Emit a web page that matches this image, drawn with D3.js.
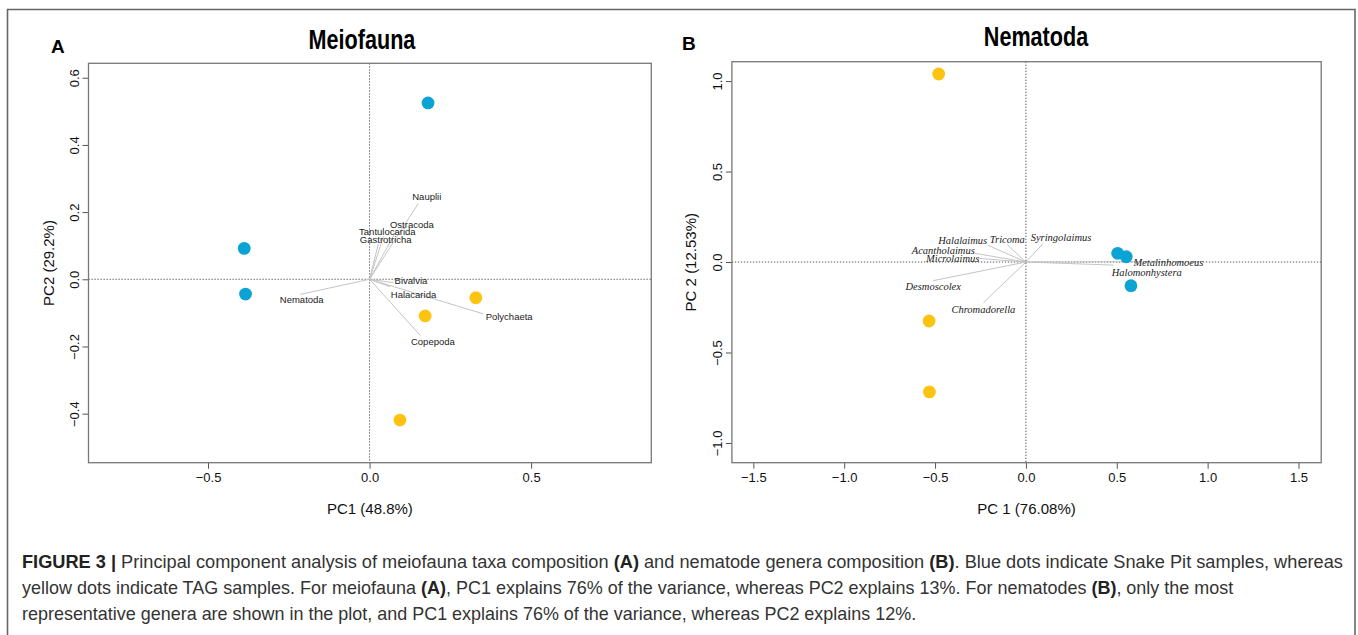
<!DOCTYPE html>
<html>
<head>
<meta charset="utf-8">
<script src="https://cdn.jsdelivr.net/npm/d3@7"></script>
<style>
    body { margin: 0; background: #fff; }
    svg { display: block; }
    .tick text { font-family: "Liberation Sans", Arial, sans-serif; font-size: 13px; fill: #111; }
    .tick line { stroke: #555; }
</style>
</head>
<body>
<div id="fig"></div>
<script>
// ---- panel A: meiofauna PCA (sample scores + taxa loadings) ----
const meioSite = ['Snake Pit', 'Snake Pit', 'Snake Pit', 'TAG', 'TAG', 'TAG'];
const meioPC1 = [0.181, -0.388, -0.384, 0.329, 0.172, 0.094];
const meioPC2 = [0.525, 0.092, -0.044, -0.055, -0.109, -0.419];

const meioTaxa = ['Nauplii', 'Ostracoda', 'Tantulocarida', 'Gastrotricha', 'Bivalvia', 'Halacarida', 'Polychaeta', 'Copepoda', 'Nematoda'];
const meioLoadPC1 = [0.151, 0.084, 0.043, 0.027, 0.074, 0.063, 0.352, 0.158, -0.215];
const meioLoadPC2 = [0.226, 0.147, 0.127, 0.105, -0.010, -0.022, -0.103, -0.168, -0.045];
// where the taxon names sit (data units)
const meioLabelPC1 = [0.177, 0.131, 0.055, 0.050, 0.128, 0.136, 0.432, 0.196, -0.210];
const meioLabelPC2 = [0.246, 0.164, 0.142, 0.117, -0.005, -0.047, -0.111, -0.186, -0.062];

const meioTicksX = [-0.5, 0, 0.5];
const meioTicksY = [-0.4, -0.2, 0, 0.2, 0.4, 0.6];

// ---- panel B: nematode genera PCA ----
const nemaSite = ['TAG', 'TAG', 'TAG', 'Snake Pit', 'Snake Pit', 'Snake Pit'];
const nemaPC1 = [-0.480, -0.533, -0.531, 0.505, 0.552, 0.578];
const nemaPC2 = [1.039, -0.326, -0.718, 0.048, 0.029, -0.131];

const nemaGenera = ['Halalaimus', 'Tricoma', 'Syringolaimus', 'Acantholaimus', 'Microlaimus', 'Desmoscolex', 'Chromadorella', 'Metalinhomoeus', 'Halomonhystera'];
const nemaLoadPC1 = [-0.212, -0.102, 0.096, -0.280, -0.262, -0.510, -0.234, 0.591, 0.481];
const nemaLoadPC2 = [0.094, 0.094, 0.103, 0.048, 0.020, -0.103, -0.225, 0.002, -0.017];
const nemaLabelPC1 = [-0.348, -0.102, 0.193, -0.455, -0.403, -0.510, -0.234, 0.784, 0.665];
const nemaLabelPC2 = [0.118, 0.127, 0.134, 0.066, 0.020, -0.136, -0.261, -0.004, -0.059];

const nemaTicksX = [-1.5, -1.0, -0.5, 0, 0.5, 1.0, 1.5];
const nemaTicksY = [-1.0, -0.5, 0, 0.5, 1.0];

const siteColor = { 'Snake Pit': '#0ba3d3', 'TAG': '#fcc411' };

const captionLines = [
    [['FIGURE 3 | ', true], ['Principal component analysis of meiofauna taxa composition ', false], ['(A)', true], [' and nematode genera composition ', false], ['(B)', true], ['. Blue dots indicate Snake Pit samples, whereas', false]],
    [['yellow dots indicate TAG samples. For meiofauna ', false], ['(A)', true], [', PC1 explains 76% of the variance, whereas PC2 explains 13%. For nematodes ', false], ['(B)', true], [', only the most', false]],
    [['representative genera are shown in the plot, and PC1 explains 76% of the variance, whereas PC2 explains 12%.', false]]
];

const W = 1358, H = 635;
const svg = d3.select('#fig').append('svg').attr('width', W).attr('height', H);

// outer frame (open at the bottom, as cut in the figure)
svg.append('path')
    .attr('d', 'M7.5,640 V9.5 H1355 V640')
    .attr('fill', 'none').attr('stroke', '#666').attr('stroke-width', 1.6);

const fmt = (v) => d3.format('.1f')(v).replace('-', '\u2212');

function panel(cfg) {
    let x = d3.scaleLinear().domain(cfg.xDomain).range([cfg.left, cfg.right]);
    let y = d3.scaleLinear().domain(cfg.yDomain).range([cfg.bottom, cfg.top]);
    let g = svg.append('g');

    // zero reference lines
    g.append('line').attr('x1', cfg.left).attr('x2', cfg.right).attr('y1', y(0)).attr('y2', y(0))
        .attr('stroke', '#555').attr('stroke-width', 1).attr('stroke-dasharray', '1.3,1.7');
    g.append('line').attr('y1', cfg.top).attr('y2', cfg.bottom).attr('x1', x(0)).attr('x2', x(0))
        .attr('stroke', '#555').attr('stroke-width', 1).attr('stroke-dasharray', '1.3,1.7');

    // loading vectors
    g.append('g').selectAll('line').data(cfg.names).enter().append('line')
        .attr('x1', x(0)).attr('y1', y(0))
        .attr('x2', (d, i) => x(cfg.loadX[i])).attr('y2', (d, i) => y(cfg.loadY[i]))
        .attr('stroke', '#c4c4c4').attr('stroke-width', 1);

    g.append('g').selectAll('text').data(cfg.names).enter().append('text')
        .attr('x', (d, i) => x(cfg.labelX[i])).attr('y', (d, i) => y(cfg.labelY[i]))
        .attr('dy', '0.35em')
        .attr('text-anchor', 'middle')
        .style('font-family', cfg.labelFont)
        .style('font-style', cfg.labelStyle)
        .style('font-size', cfg.labelSize)
        .style('fill', '#222')
        .text((d) => d);

    // sample scores
    g.append('g').selectAll('circle').data(cfg.sites).enter().append('circle')
        .attr('cx', (d, i) => x(cfg.ptsX[i])).attr('cy', (d, i) => y(cfg.ptsY[i]))
        .attr('r', 6.4)
        .style('fill', (d) => siteColor[d]);

    // axes
    let xAxis = d3.axisBottom(x).tickValues(cfg.ticksX).tickFormat(fmt).tickSize(6).tickPadding(4);
    let yAxis = d3.axisLeft(y).tickValues(cfg.ticksY).tickFormat(fmt).tickSize(6);
    g.append('g').attr('transform', 'translate(0,' + cfg.bottom + ')').call(xAxis)
        .call((a) => a.select('.domain').remove());
    g.append('g').attr('transform', 'translate(' + cfg.left + ',0)').call(yAxis)
        .call((a) => a.select('.domain').remove())
        .selectAll('text')
        .attr('transform', 'rotate(-90)')
        .attr('x', 0).attr('y', -10).attr('dy', 0)
        .style('text-anchor', 'middle');

    // plot box
    g.append('rect').attr('x', cfg.left).attr('y', cfg.top)
        .attr('width', cfg.right - cfg.left).attr('height', cfg.bottom - cfg.top)
        .attr('fill', 'none').attr('stroke', '#777').attr('stroke-width', 1.3);

    // titles (condensed bold, squeezed horizontally)
    g.append('text')
        .attr('transform', 'translate(' + cfg.titleX + ',' + cfg.titleY + ') scale(0.8,1)')
        .attr('text-anchor', 'middle')
        .style('font-family', '"Liberation Sans", Arial, sans-serif')
        .style('font-weight', 'bold').style('font-size', '27px').style('fill', '#000')
        .text(cfg.title);
    g.append('text').attr('x', cfg.letterX).attr('y', cfg.letterY)
        .style('font-family', '"Liberation Sans", Arial, sans-serif')
        .style('font-weight', 'bold').style('font-size', '19px').style('fill', '#000')
        .text(cfg.letter);
    g.append('text').attr('x', (cfg.left + cfg.right) / 2).attr('y', 514).attr('text-anchor', 'middle')
        .style('font-family', '"Liberation Sans", Arial, sans-serif').style('font-size', '15px').style('fill', '#111')
        .text(cfg.xTitle);
    g.append('text')
        .attr('transform', 'translate(' + cfg.yTitleX + ',' + (cfg.top + cfg.bottom) / 2 + ') rotate(-90)')
        .attr('text-anchor', 'middle')
        .style('font-family', '"Liberation Sans", Arial, sans-serif').style('font-size', '15px').style('fill', '#111')
        .text(cfg.yTitle);
}

panel({
    left: 88.5, right: 651.3, top: 63.3, bottom: 462.7,
    xDomain: [-0.870, 0.872], yDomain: [-0.546, 0.643],
    ticksX: meioTicksX, ticksY: meioTicksY,
    ptsX: meioPC1, ptsY: meioPC2, sites: meioSite,
    names: meioTaxa, loadX: meioLoadPC1, loadY: meioLoadPC2,
    labelX: meioLabelPC1, labelY: meioLabelPC2,
    labelFont: '"Liberation Sans", Arial, sans-serif', labelStyle: 'normal', labelSize: '9.5px',
    title: 'Meiofauna', titleX: 362, titleY: 49,
    letter: 'A', letterX: 51, letterY: 53,
    xTitle: 'PC1 (48.8%)', yTitle: 'PC2 (29.2%)', yTitleX: 54
});

panel({
    left: 731.9, right: 1321.2, top: 61.7, bottom: 462.7,
    xDomain: [-1.618, 1.625], yDomain: [-1.109, 1.107],
    ticksX: nemaTicksX, ticksY: nemaTicksY,
    ptsX: nemaPC1, ptsY: nemaPC2, sites: nemaSite,
    names: nemaGenera, loadX: nemaLoadPC1, loadY: nemaLoadPC2,
    labelX: nemaLabelPC1, labelY: nemaLabelPC2,
    labelFont: '"Liberation Serif", "Times New Roman", serif', labelStyle: 'italic', labelSize: '10.5px',
    title: 'Nematoda', titleX: 1036, titleY: 46,
    letter: 'B', letterX: 682, letterY: 50,
    xTitle: 'PC 1 (76.08%)', yTitle: 'PC 2 (12.53%)', yTitleX: 696
});

// caption, each line squeezed to the width it has in the figure
const captionRight = [1344, 1234, 917];
const captionY = [568, 594, 620];
captionLines.forEach((parts, li) => {
    let t = svg.append('text').attr('x', 0).attr('y', 0)
        .style('font-family', '"Liberation Sans", Arial, sans-serif').style('font-size', '17.5px').style('fill', '#333');
    parts.forEach((p) => {
        t.append('tspan').style('font-weight', p[1] ? 'bold' : 'normal')
            .style('fill', p[1] ? '#222' : '#333').text(p[0]);
    });
    let w = t.node().getComputedTextLength();
    let s = (captionRight[li] - 22) / w;
    t.attr('transform', 'translate(22,' + captionY[li] + ') scale(' + s + ',1)');
});
</script>
</body>
</html>
